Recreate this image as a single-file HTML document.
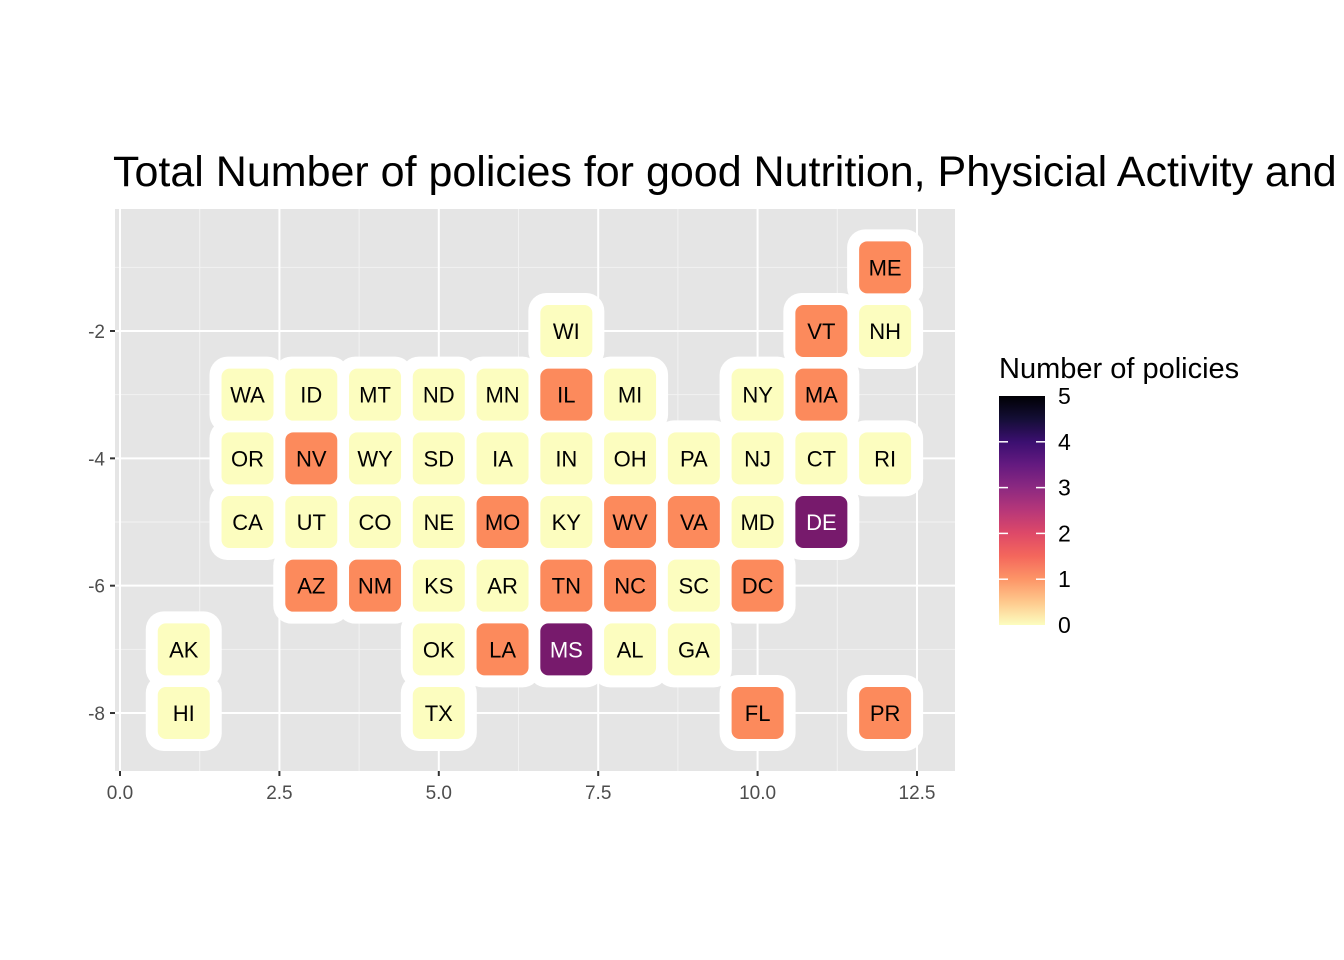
<!DOCTYPE html>
<html><head><meta charset="utf-8"><style>
html,body{margin:0;padding:0;background:#fff;overflow:hidden}
svg{display:block;font-family:"Liberation Sans",Arial,sans-serif}
</style></head><body>
<svg id="chart" width="1344" height="960">
<defs><linearGradient id="mg" x1="0" y1="1" x2="0" y2="0">
<stop offset="0" stop-color="#FCFDBF"/><stop offset="0.1" stop-color="#FEC98D"/><stop offset="0.2" stop-color="#FD9567"/><stop offset="0.3" stop-color="#F4675C"/><stop offset="0.4" stop-color="#DE4968"/><stop offset="0.5" stop-color="#B73779"/><stop offset="0.6" stop-color="#8C2981"/><stop offset="0.7" stop-color="#641A80"/><stop offset="0.8" stop-color="#3B0F70"/><stop offset="0.9" stop-color="#140E36"/><stop offset="1" stop-color="#000004"/>
</linearGradient></defs>
<text x="113" y="186" font-size="43" fill="#000">Total Number of policies for good Nutrition, Physicial Activity and Obesity</text>
<rect x="115" y="209" width="840" height="562" fill="#E5E5E5"/>
<g id="grid"></g><g id="tiles"></g><g id="axes"></g>
<text x="999" y="378" font-size="29" fill="#000">Number of policies</text>
<rect x="999" y="396" width="46" height="229" fill="url(#mg)"/>
<g id="legend"></g>
</svg>
<script>
const stateAbbr=["ME","WI","VT","NH","WA","ID","MT","ND","MN","IL","MI","NY","MA","OR","NV","WY","SD","IA","IN","OH","PA","NJ","CT","RI","CA","UT","CO","NE","MO","KY","WV","VA","MD","DE","AZ","NM","KS","AR","TN","NC","SC","DC","AK","OK","LA","MS","AL","GA","HI","TX","FL","PR"];
const stateCol=[12,7,11,12,2,3,4,5,6,7,8,10,11,2,3,4,5,6,7,8,9,10,11,12,2,3,4,5,6,7,8,9,10,11,3,4,5,6,7,8,9,10,1,5,6,7,8,9,1,5,10,12];
const stateRow=[-1,-2,-2,-2,-3,-3,-3,-3,-3,-3,-3,-3,-3,-4,-4,-4,-4,-4,-4,-4,-4,-4,-4,-4,-5,-5,-5,-5,-5,-5,-5,-5,-5,-5,-6,-6,-6,-6,-6,-6,-6,-6,-7,-7,-7,-7,-7,-7,-8,-8,-8,-8];
const policies=[1,0,1,0,0,0,0,0,0,1,0,0,1,0,1,0,0,0,0,0,0,0,0,0,0,0,0,0,1,0,1,1,0,3,1,1,0,0,1,1,0,1,0,0,1,3,0,0,0,0,1,1];
const xTicks=[0,2.5,5,7.5,10,12.5];
const xTickLabels=["0.0","2.5","5.0","7.5","10.0","12.5"];
const yTicks=[-2,-4,-6,-8];
const yTickLabels=["-2","-4","-6","-8"];
const legendTicks=[0,1,2,3,4,5];
const NS="http://www.w3.org/2000/svg";
const sx=v=>120+v*63.76, sy=v=>331+(-2-v)*63.67;
const ly=v=>625-v*45.8;
function mk(tag,attrs,parent){const e=document.createElementNS(NS,tag);for(const k in attrs)e.setAttribute(k,attrs[k]);document.getElementById(parent).appendChild(e);return e;}
const fillFor=v=>v>=3?"#771A6C":(v>=2?"#E2405A":(v>=1?"#FC8A5C":"#FCFDBF"));
[1.25,3.75,6.25,8.75,11.25].forEach(v=>{const l=mk("line",{x1:sx(v),x2:sx(v),y1:209,y2:771,stroke:"#F2F2F2","stroke-width":1},"grid");

});
[-1,-3,-5,-7].forEach(v=>{const l=mk("line",{x1:115,x2:955,y1:sy(v),y2:sy(v),stroke:"#F2F2F2","stroke-width":1},"grid");

});
xTicks.forEach((v,i)=>{const l=mk("line",{x1:sx(v),x2:sx(v),y1:209,y2:771,stroke:"#fff","stroke-width":2},"grid");


const t=mk("line",{x1:sx(v),x2:sx(v),y1:771,y2:776,stroke:"#333","stroke-width":2},"axes");


const tx=mk("text",{x:sx(v),y:799,"font-size":19,fill:"#4D4D4D","text-anchor":"middle"},"axes");tx.textContent=xTickLabels[i];

});
yTicks.forEach((v,i)=>{const l=mk("line",{x1:115,x2:955,y1:sy(v),y2:sy(v),stroke:"#fff","stroke-width":2},"grid");


const t=mk("line",{x1:110,x2:115,y1:sy(v),y2:sy(v),stroke:"#333","stroke-width":2},"axes");


const tx=mk("text",{x:105,y:sy(v)+7,"font-size":19,fill:"#4D4D4D","text-anchor":"end"},"axes");tx.textContent=yTickLabels[i];

});
stateAbbr.forEach((s,i)=>{const b=mk("rect",{x:sx(stateCol[i])-38,y:sy(stateRow[i])-38,width:76,height:76,rx:18,fill:"#fff"},"tiles");

});
stateAbbr.forEach((s,i)=>{const cx=sx(stateCol[i]),cy=sy(stateRow[i]);
const r=mk("rect",{x:cx-26,y:cy-26,width:52,height:52,rx:8,fill:fillFor(policies[i])},"tiles");


const t=mk("text",{x:cx,y:cy+8,"font-size":22,"text-anchor":"middle",fill:policies[i]>=3?"#fff":"#000"},"tiles");t.textContent=s;

});
legendTicks.forEach(v=>{const y=ly(v);
if(v>0&&v<5){const a=mk("line",{x1:999,x2:1008,y1:y,y2:y,stroke:"#fff","stroke-width":1.5},"legend");


const b=mk("line",{x1:1036,x2:1045,y1:y,y2:y,stroke:"#fff","stroke-width":1.5},"legend");

}
const t=mk("text",{x:1058,y:y+8,"font-size":23,fill:"#000"},"legend");t.textContent=String(v);

});
</script>
</body></html>
